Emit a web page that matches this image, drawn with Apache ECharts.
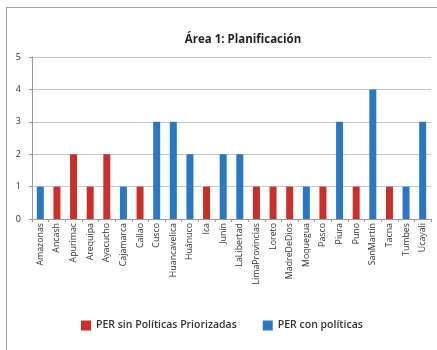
<!DOCTYPE html>
<html><head><meta charset="utf-8">
<script src="https://cdn.jsdelivr.net/npm/echarts@6/dist/echarts.min.js"></script>
<style>html,body{margin:0;padding:0;background:#fff}#c{width:437px;height:350px}
#frame{position:absolute;left:6px;top:7px;width:440px;height:350px;border:1.5px solid #a0a0a0;box-sizing:border-box;pointer-events:none}</style>
</head><body><div id="c"></div><div id="frame"></div>
<script>
const categories = ["Amazonas","Ancash","Apurimac","Arequipa","Ayacucho","Cajamarca","Callao","Cusco","Huancavelica","Huánuco","Ica","Junín","LaLibertad","LimaProvincias","Loreto","MadreDeDios","Moquegua","Pasco","Piura","Puno","SanMartín","Tacna","Tumbes","Ucayali"];
const sinPoliticas = [null,1,2,1,2,null,1,null,null,null,1,null,null,1,1,1,null,1,null,1,null,1,null,null];
const conPoliticas = [1,null,null,null,null,1,null,3,3,2,null,2,2,null,null,null,1,null,3,null,4,null,1,3];
const yTicks = [0,1,2,3,4,5];
const chart = echarts.init(document.getElementById('c'));
chart.setOption({
  animation:false,
  title:{text:'Área 1: Planificación',left:238,textAlign:'center',top:29,textStyle:{fontFamily:'Open Sans',fontSize:11.5,fontWeight:'bold',color:'#222'}},
  grid:{left:32,right:6,top:57,bottom:131},
  legend:{bottom:14,left:76,itemWidth:10,itemHeight:10,itemGap:26,icon:'rect',
    textStyle:{fontFamily:'Open Sans',fontSize:10.5,fontWeight:600,color:'#333'},
    data:['PER sin Políticas Priorizadas','PER con políticas']},
  xAxis:{type:'category',data:categories,
    axisLine:{lineStyle:{color:'#999'}},
    axisTick:{show:true,length:3,lineStyle:{color:'#999'}},
    axisLabel:{rotate:90,fontFamily:'Open Sans',fontSize:8.8,color:'#333',margin:4,interval:0}},
  yAxis:{type:'value',min:0,max:5,interval:1,
    axisLine:{show:true,lineStyle:{color:'#999'}},
    axisTick:{show:true,length:3,lineStyle:{color:'#999'}},
    splitLine:{lineStyle:{color:'#c8c8c8'}},
    axisLabel:{fontFamily:'Open Sans',fontSize:9,color:'#333',margin:11,formatter:v=>yTicks.includes(v)?String(v):''}},
  series:[
    {name:'PER sin Políticas Priorizadas',type:'bar',stack:'a',data:sinPoliticas,barWidth:7,itemStyle:{color:'#C9302C'}},
    {name:'PER con políticas',type:'bar',stack:'a',data:conPoliticas,barWidth:7,itemStyle:{color:'#2B78C2'}}
  ]
});
</script></body></html>
